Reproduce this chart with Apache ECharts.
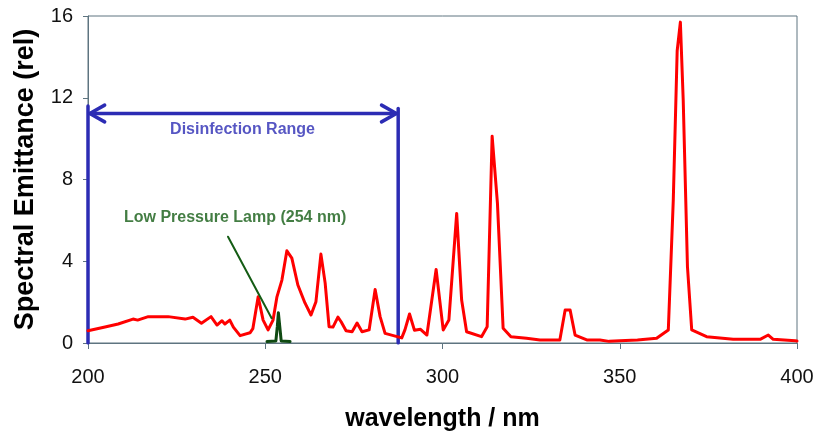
<!DOCTYPE html>
<html>
<head>
<meta charset="utf-8">
<script src="https://cdn.jsdelivr.net/npm/echarts@6/dist/echarts.min.js"></script>
<style>
  html, body { margin: 0; padding: 0; background: #fff; }
  #chart { width: 818px; height: 438px; }
</style>
</head>
<body>
<div id="chart"></div>
<script>
// wavelength (nm) / relative emittance
const wavelength = [200, 204.8, 208.5, 212.7, 214, 217, 222.6, 227.4, 229.6, 232, 234.7, 236.4, 237.8, 238.6, 240, 241, 242.9, 245.7, 246.5, 248, 249.4, 250.8, 252.2, 253.3, 254.7, 256.1, 257.5, 259.2, 261.2, 262.9, 264.3, 265.7, 266.9, 268, 269.1, 270.5, 271.4, 272.8, 274.5, 275.9, 277.3, 279.3, 281, 282.4, 283.8, 287.2, 288.5, 289.4, 290.7, 292.1, 293.8, 295.6, 298.2, 300.2, 301.8, 304, 305.4, 306.8, 311, 312.6, 314, 315.5, 317.1, 319.3, 323.7, 327.5, 333.1, 334.6, 336, 337.4, 340.7, 344.4, 347, 350, 355, 360.4, 363.7, 365.1, 366.2, 367.1, 367.9, 369.1, 370.3, 374.5, 382, 389.6, 391.9, 393.3, 399.5, 400];
const emittance = [0.6, 0.78, 0.93, 1.17, 1.12, 1.29, 1.29, 1.17, 1.26, 0.97, 1.29, 0.88, 1.09, 0.93, 1.12, 0.78, 0.36, 0.5, 0.7, 2.26, 1.12, 0.64, 1.12, 2.26, 3.08, 4.51, 4.15, 2.84, 1.96, 1.37, 2.02, 4.35, 2.93, 0.8, 0.78, 1.27, 1.04, 0.6, 0.55, 0.98, 0.55, 0.64, 2.62, 1.29, 0.47, 0.31, 0.25, 0.64, 1.42, 0.62, 0.67, 0.39, 3.6, 0.64, 1.12, 6.34, 2.1, 0.55, 0.31, 0.8, 10.12, 6.83, 0.72, 0.31, 0.23, 0.15, 0.15, 1.61, 1.61, 0.39, 0.15, 0.15, 0.08, 0.11, 0.15, 0.23, 0.64, 6.99, 14.3, 15.7, 11.9, 3.73, 0.64, 0.31, 0.18, 0.18, 0.39, 0.18, 0.11, 0.1];

// low pressure mercury lamp line
const lampWavelength = [250.5, 253.0, 253.4, 253.7, 254.1, 254.5, 257.0];
const lampEmittance = [0.07, 0.1, 0.8, 1.48, 0.8, 0.1, 0.07];

const xTicks = [200, 250, 300, 350, 400];
const yTicks = [0, 4, 8, 12, 16];

// disinfection range bracket
const rangeNm = [200, 287.5];
const rangeTop = 11.6;
const arrowLevel = 11.23;
const arrowLen = 4.2;   // nm
const arrowHalf = 0.41; // rel

// annotation pointer: text position -> lamp line
const pointerFrom = [239.5, 5.2];
const pointerTo = [251.8, 1.21];

const FONT = "'Liberation Sans', Arial, sans-serif";
const BLUE = '#2c2cb4';
const GREEN = '#145c14';
const AXIS = '#5e7480';

const chart = echarts.init(document.getElementById('chart'), null, { renderer: 'canvas' });

const redData = wavelength.map((w, i) => [w, emittance[i]]);
const lampData = lampWavelength.map((w, i) => [w, lampEmittance[i]]);

const bracketStyle = { color: BLUE, width: 3.5 };
function plainLine(data, lineStyle, z) {
  return {
    type: 'line', data: data, symbol: 'none', silent: true, z: z || 3,
    lineStyle: Object.assign({ join: 'round', cap: 'round' }, lineStyle), animation: false
  };
}

const option = {
  animation: false,
  backgroundColor: '#fff',
  grid: {
    left: 88, right: 21, top: 16, bottom: 95,
    outerBoundsMode: 'none',
    show: true, borderColor: AXIS, borderWidth: 1
  },
  xAxis: {
    type: 'value', min: xTicks[0], max: xTicks[xTicks.length - 1], interval: 50,
    name: 'wavelength / nm', nameLocation: 'middle', nameGap: 64,
    nameTextStyle: { fontFamily: FONT, fontSize: 25, fontWeight: 'bold', color: '#000' },
    axisLine: { show: true, lineStyle: { color: AXIS, width: 1 } },
    axisTick: { show: true, inside: false, length: 6, lineStyle: { color: AXIS } },
    axisLabel: { margin: 24, fontFamily: FONT, fontSize: 20, color: '#111' },
    splitLine: { show: false }
  },
  yAxis: {
    type: 'value', min: yTicks[0], max: yTicks[yTicks.length - 1], interval: 4,
    name: 'Spectral Emittance (rel)', nameLocation: 'middle', nameGap: 49, nameRotate: 90,
    nameTextStyle: { fontFamily: FONT, fontSize: 27, fontWeight: 'bold', color: '#000' },
    axisLine: { show: true, lineStyle: { color: AXIS, width: 1 } },
    axisTick: { show: true, inside: false, length: 5, lineStyle: { color: AXIS } },
    axisLabel: { margin: 15, fontFamily: FONT, fontSize: 20, color: '#111' },
    splitLine: { show: false }
  },
  series: [
    plainLine(redData, { color: '#ff0000', width: 3 }, 4),
    plainLine(lampData, { color: '#0f4a12', width: 3 }, 5),
    // bracket verticals
    plainLine([[rangeNm[0], 0], [rangeNm[0], rangeTop]], bracketStyle, 3),
    plainLine([[rangeNm[1], 0], [rangeNm[1], rangeTop - 0.12]], bracketStyle, 3),
    // double arrow
    plainLine([[rangeNm[0] + 0.5, arrowLevel], [rangeNm[1] - 0.5, arrowLevel]], bracketStyle, 3),
    plainLine([[rangeNm[0] + 0.5 + arrowLen, arrowLevel + arrowHalf], [rangeNm[0] + 0.5, arrowLevel], [rangeNm[0] + 0.5 + arrowLen, arrowLevel - arrowHalf]], bracketStyle, 3),
    plainLine([[rangeNm[1] - 0.5 - arrowLen, arrowLevel + arrowHalf], [rangeNm[1] - 0.5, arrowLevel], [rangeNm[1] - 0.5 - arrowLen, arrowLevel - arrowHalf]], bracketStyle, 3),
    // pointer
    plainLine([pointerFrom, pointerTo], { color: GREEN, width: 2 }, 6),
    // text labels
    {
      type: 'scatter', symbolSize: 0, silent: true, z: 7,
      data: [
        { value: [243.6, 10.42], label: { formatter: 'Disinfection Range', color: BLUE } },
        { value: [241.5, 6.16], label: { formatter: 'Low Pressure Lamp (254 nm)', color: GREEN } }
      ],
      label: {
        show: true, position: 'inside', fontFamily: FONT, fontSize: 16, fontWeight: 'bold'
      }
    }
  ]
};

chart.setOption(option);
</script>
</body>
</html>
